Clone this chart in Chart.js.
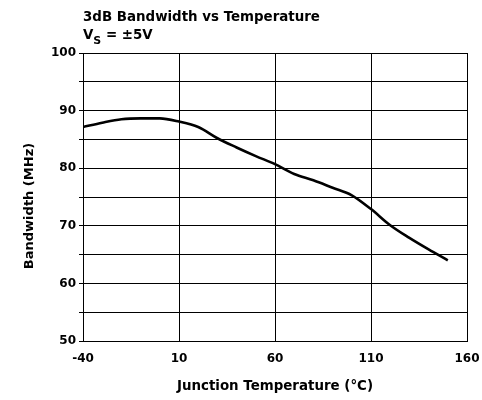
<!DOCTYPE html>
<html>
<head>
<meta charset="utf-8">
<script src="https://cdn.jsdelivr.net/npm/chart.js@4"></script>
<style>
  html, body { margin: 0; padding: 0; background: #fff; }
  #wrap { width: 482px; height: 400px; }
</style>
</head>
<body>
<div id="wrap"><canvas id="bwChart" width="482" height="400"></canvas></div>
<script>
// junction temperature (°C) and -3dB bandwidth (MHz)
const temps = [-40, -30, -20, -10, 0, 10, 20, 30, 40, 50, 60, 70, 80, 90, 100, 110, 120, 130, 140, 150];
const bandwidth = [87.15, 87.9, 88.5, 88.65, 88.65, 88.1, 87.15, 85.2, 83.6, 82.1, 80.7, 79.0, 77.9, 76.6, 75.3, 72.9, 70.1, 67.9, 65.9, 64.0];

const xTicks = [-40, 10, 60, 110, 160];
const yLabelTicks = [50, 60, 70, 80, 90, 100];

const titleText = '3dB Bandwidth vs Temperature';
const yTitle = 'Bandwidth (MHz)';
const xTitle = 'Junction Temperature (°C)';

const FONT = "'DejaVu Sans', sans-serif";

// header lines and the y title are drawn by hand (subscript, offset placement)
const textPlugin = {
    id: 'texts',
    afterDraw(chart) {
        const ctx = chart.ctx;
        ctx.save();
        ctx.fillStyle = '#000';
        ctx.textBaseline = 'alphabetic';
        ctx.textAlign = 'left';

        ctx.font = 'bold 13.4px ' + FONT;
        ctx.fillText(titleText, 83, 21);

        let x = 83;
        ctx.fillText('V', x, 39);
        x += ctx.measureText('V').width;
        ctx.font = 'bold 11px ' + FONT;
        ctx.fillText('S', x, 44);
        x += ctx.measureText('S').width;
        ctx.font = 'bold 13.4px ' + FONT;
        ctx.fillText(' = ±5V', x, 39);

        ctx.translate(30, 206);
        ctx.rotate(-Math.PI / 2);
        ctx.textAlign = 'center';
        ctx.textBaseline = 'middle';
        ctx.font = 'bold 13px ' + FONT;
        ctx.fillText(yTitle, 0, 0);
        ctx.restore();
    }
};

const ctx = document.getElementById('bwChart').getContext('2d');
new Chart(ctx, {
    type: 'line',
    data: {
        datasets: [{
            data: temps.map((t, i) => ({ x: t, y: bandwidth[i] })),
            borderColor: '#000',
            borderWidth: 2.6,
            pointRadius: 0,
            cubicInterpolationMode: 'monotone',
            fill: false
        }]
    },
    options: {
        responsive: false,
        animation: false,
        events: [],
        layout: { padding: { top: 53, left: 0, right: 15, bottom: 0 } },
        plugins: {
            legend: { display: false },
            tooltip: { enabled: false }
        },
        scales: {
            x: {
                type: 'linear',
                min: xTicks[0],
                max: xTicks[xTicks.length - 1],
                afterBuildTicks: (axis) => { axis.ticks = xTicks.map(v => ({ value: v })); },
                afterFit: (axis) => {
                    axis.height = 59;
                    axis.paddingLeft = 0;
                    axis.paddingRight = 0;
                },
                grid: { color: '#000', lineWidth: 1, drawTicks: false },
                border: { color: '#000', width: 1 },
                ticks: {
                    color: '#000',
                    padding: 11,
                    maxRotation: 0,
                    font: { family: FONT, size: 12, weight: 'bold' }
                },
                title: {
                    display: true,
                    text: xTitle,
                    color: '#000',
                    padding: { top: 0, bottom: 5 },
                    font: { family: FONT, size: 13.4, weight: 'bold' }
                }
            },
            y: {
                min: 50,
                max: 100,
                afterFit: (axis) => {
                    axis.width = 83;
                    axis.paddingTop = 0;
                    axis.paddingBottom = 0;
                },
                grid: { color: '#000', lineWidth: 1, tickLength: 4 },
                border: { color: '#000', width: 1 },
                ticks: {
                    stepSize: 5,
                    color: '#000',
                    padding: 3,
                    font: { family: FONT, size: 12, weight: 'bold' },
                    callback: (v) => yLabelTicks.includes(v) ? String(v) : ''
                }
            }
        }
    },
    plugins: [textPlugin]
});
</script>
</body>
</html>
